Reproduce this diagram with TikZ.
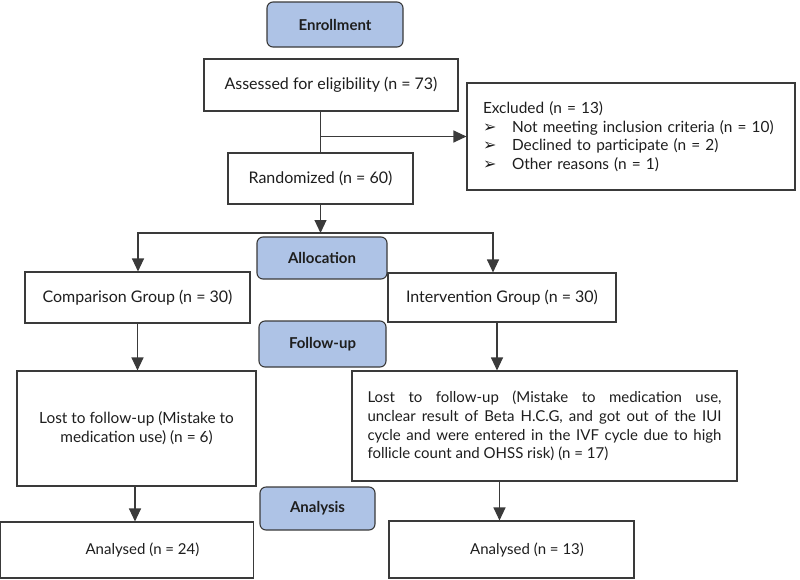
\documentclass[tikz,border=0pt]{standalone}
\usepackage{fontspec}
\setmainfont{Lato}
\newfontfamily\dejavu{DejaVu Sans}
\usetikzlibrary{arrows.meta}
\definecolor{phase}{HTML}{AEC3E6}
\definecolor{edge}{HTML}{3A3A3A}
\definecolor{ink}{HTML}{1E1E1E}
\newcommand{\bulmark}{\makebox[29pt][l]{\dejavu\fontsize{16}{18.6}\selectfont ➢}}
\begin{document}
\begin{tikzpicture}[x=1pt,y=-1pt,
  every node/.style={text=ink, font=\fontsize{16}{19}\selectfont},
  small/.style={font=\fontsize{15}{18.6}\selectfont},
  box/.style={draw=edge, line width=1.1pt, fill=white, inner sep=0pt},
  phasebox/.style={draw=edge, line width=1.1pt, fill=phase, rounded corners=6pt, inner sep=0pt, font=\fontsize{15}{18.6}\selectfont\bfseries},
  conn/.style={draw=edge, line width=1.1pt},
  arrow/.style={conn, -{Triangle[length=13pt,width=12pt]}}]
\useasboundingbox (0,0) rectangle (800,579);

% phase labels
\node[phasebox, minimum width=136pt, minimum height=45pt] (enroll) at (335,24.5) {Enrollment};
\node[phasebox, minimum width=130pt, minimum height=42pt] (alloc) at (322,258) {Allocation};
\node[phasebox, minimum width=127pt, minimum height=46pt] (follow) at (322.5,344) {Follow-up};
\node[phasebox, minimum width=115pt, minimum height=43pt] (analysis) at (317.5,508.5) {Analysis};

% boxes
\node[box, minimum width=254pt, minimum height=52pt] (assess) at (331,85) {Assessed for eligibility (n = 73)};
\node[box, minimum width=328pt, minimum height=107pt, text width=296pt, align=left,
      font=\fontsize{15.4}{18.5}\selectfont] (excl) at (631,136.5)
  {Excluded (n = 13)\\
   \bulmark Not meeting inclusion criteria (n = 10)\\
   \bulmark Declined to participate (n = 2)\\
   \bulmark Other reasons (n = 1)};
\node[box, minimum width=185pt, minimum height=51pt] (rand) at (320.5,178.5) {Randomized (n = 60)};
\node[box, minimum width=225pt, minimum height=51pt] (comp) at (137.5,297.5) {Comparison Group (n = 30)};
\node[box, minimum width=228pt, minimum height=49pt] (interv) at (502,297.5) {Intervention Group (n = 30)};
\node[box, small, minimum width=239pt, minimum height=115pt, align=center,
      font=\fontsize{15.4}{18.8}\selectfont] (lost1) at (136.5,428.5)
  {Lost to follow-up (Mistake to\\medication use) (n = 6)};
\node[box, small, minimum width=385pt, minimum height=110pt, text width=354pt, align=justify] (lost2) at (544.5,426)
  {Lost to follow-up (Mistake to medication use,\linebreak
   unclear result of Beta H.C.G, and got out of the IUI\linebreak
   cycle and were entered in the IVF cycle due to high\linebreak
   follicle count and OHSS risk) (n = 17)};
\node[box, small, minimum width=253pt, minimum height=56pt] (an1) at (127,550) {\hspace*{31pt}Analysed (n = 24)};
\node[box, small, minimum width=245pt, minimum height=57pt] (an2) at (511.5,549.5) {\hspace*{31pt}Analysed (n = 13)};

% connectors
\draw[conn] (rand.north |- assess.south) -- (rand.north);
\draw[arrow] (rand.north |- excl.west) -- (excl.west);
\coordinate (split) at (320.5,233);
\coordinate (sl) at (138,233);
\coordinate (sr) at (493,233);
\draw[arrow] (rand.south) -- (split);
\draw[arrow] (sr) -- (sl) -- (sl |- comp.north);
\draw[arrow] (sl) -- (sr) -- (sr |- interv.north);
\draw[arrow] (comp.south) -- (comp.south |- lost1.north);
\draw[arrow] ([xshift=-5pt]interv.south) -- ([xshift=-5pt]interv.south |- lost2.north);
\draw[arrow] ([xshift=-1.5pt]lost1.south) -- ([xshift=-1.5pt]lost1.south |- an1.north);
\draw[arrow] ([xshift=-45pt]lost2.south) -- ([xshift=-45pt]lost2.south |- an2.north);
\end{tikzpicture}
\end{document}
